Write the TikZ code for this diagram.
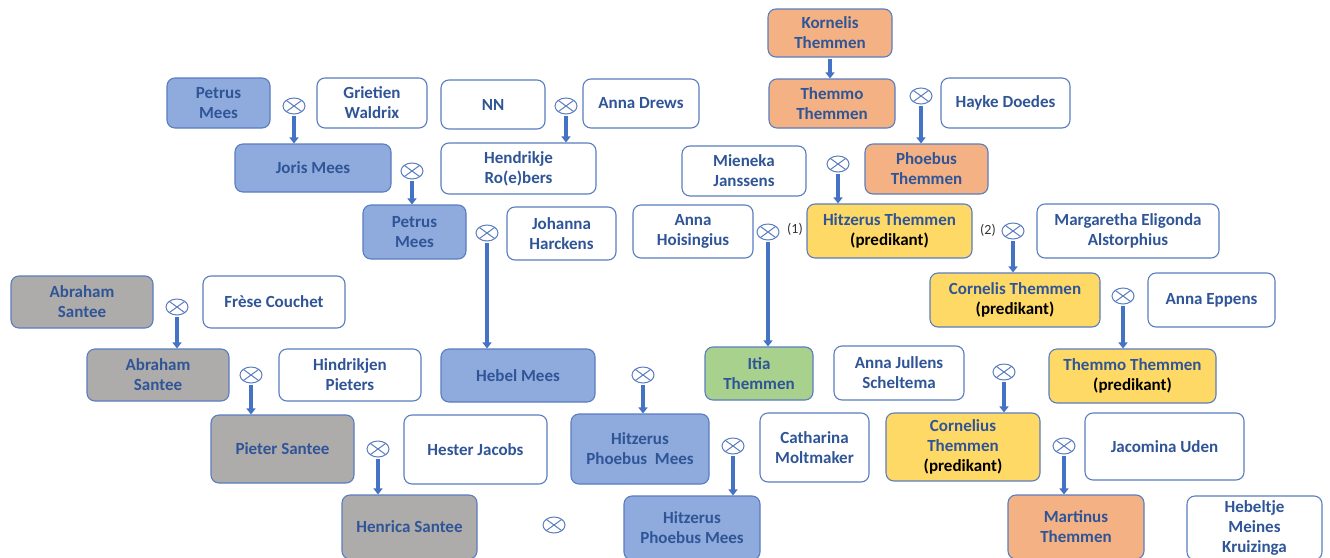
\documentclass[tikz,border=0pt]{standalone}
\usepackage{fontspec}
\setmainfont{Carlito}
\usetikzlibrary{shapes.geometric,arrows.meta}
\definecolor{txt}{HTML}{2F5597}
\definecolor{bord}{HTML}{5A7DC0}
\definecolor{bluef}{HTML}{8FAADC}
\definecolor{orangef}{HTML}{F4B183}
\definecolor{grayf}{HTML}{AEABAB}
\definecolor{yellowf}{HTML}{FFD966}
\definecolor{greenf}{HTML}{A9D18E}
\definecolor{arrc}{HTML}{4472C4}
\definecolor{labc}{HTML}{333333}
\newcommand{\pred}{\textcolor{black}{(predikant)}}
\tikzset{
  box/.style={draw=bord, line width=1.1pt, rounded corners=8pt, fill=white, align=center,
    font=\fontsize{17}{20}\selectfont\bfseries, text=txt, inner sep=0pt},
  mar/.style={draw=bord, ellipse, minimum width=22pt, minimum height=16pt, inner sep=0pt, line width=1pt,
    path picture={\draw[bord,line width=1pt] (path picture bounding box.north west) -- (path picture bounding box.south east)
      (path picture bounding box.north east) -- (path picture bounding box.south west);}},
  arr/.style={draw=arrc, line width=3.4pt, -{Triangle[length=6pt,width=9pt]}, shorten <=1.5pt},
  lab/.style={font=\fontsize{14}{16}\selectfont, text=labc, inner sep=0pt}
}
\begin{document}
\begin{tikzpicture}[x=1pt,y=-1pt]
\fill[white] (0,0) rectangle (1330,557);
\useasboundingbox (0,0) rectangle (1330,557);
\clip (0,0) rectangle (1330,557);
% Themmen line
\node[box,fill=orangef,minimum width=124,minimum height=48] (kor) at (830,33) {Kornelis\\Themmen};
\node[box,fill=orangef,minimum width=126,minimum height=49] (th1) at (832,103.5) {Themmo\\Themmen};
\node[box,minimum width=129,minimum height=50] (hay) at (1005.5,103) {Hayke Doedes};
\node[mar] (m1) at (921,96) {};
\node[box,fill=orangef,minimum width=123,minimum height=50] (pho) at (926.5,169) {Phoebus\\Themmen};
\node[box,minimum width=124,minimum height=50] (mie) at (744,171) {Mieneka\\Janssens};
\node[mar] (m2) at (838,164) {};
\node[box,fill=yellowf,minimum width=165,minimum height=54] (hit) at (889.5,231) {Hitzerus Themmen\\\pred};
\node[lab] (l1) at (795,229) {(1)};
\node[lab] (l2) at (988,230) {(2)};
\node[mar] (m3) at (1013,231) {};
\node[box,minimum width=182,minimum height=54] (mrg) at (1128,231) {Margaretha Eligonda\\Alstorphius};
\node[box,minimum width=120,minimum height=53] (hoi) at (693,231.5) {Anna\\Hoisingius};
\node[mar] (m4) at (768,232) {};
\node[box,fill=yellowf,minimum width=170,minimum height=54] (cor) at (1015,300) {Cornelis Themmen\\\pred};
\node[mar] (m5) at (1123,296) {};
\node[box,minimum width=127,minimum height=54] (epp) at (1211.5,300) {Anna Eppens};
\node[box,fill=yellowf,minimum width=167,minimum height=54] (th2) at (1132.5,376) {Themmo Themmen\\\pred};
\node[box,fill=greenf,minimum width=108,minimum height=53] (iti) at (759,373.5) {Itia\\Themmen};
\node[box,minimum width=130,minimum height=54] (jul) at (899,373) {Anna Jullens\\Scheltema};
\node[mar] (m6) at (1004,372) {};
\node[box,fill=yellowf,minimum width=154,minimum height=68] (cos) at (963,447) {Cornelius\\Themmen\\\pred};
\node[mar] (m7) at (1064,446) {};
\node[box,minimum width=159,minimum height=67] (jac) at (1164.5,446.5) {Jacomina Uden};
\node[box,fill=orangef,minimum width=136,minimum height=64] (mrt) at (1076,527) {Martinus\\Themmen};
\node[box,minimum width=135,minimum height=64] (hbt) at (1254.5,528) {Hebeltje\\Meines\\Kruizinga};
% Mees / Santee line
\node[box,fill=bluef,minimum width=103,minimum height=50] (pe1) at (218.5,103) {Petrus\\Mees};
\node[mar] (m8) at (294,106) {};
\node[box,minimum width=110,minimum height=50] (gri) at (372,103) {Grietien\\Waldrix};
\node[box,minimum width=104,minimum height=49] (nn) at (493,104.5) {NN};
\node[mar] (m9) at (566,106) {};
\node[box,minimum width=116,minimum height=49] (dre) at (641,103.5) {Anna Drews};
\node[box,fill=bluef,minimum width=156,minimum height=48] (jor) at (313,168) {Joris Mees};
\node[mar] (m10) at (412,171) {};
\node[box,minimum width=155,minimum height=51] (hen) at (518.5,168.5) {Hendrikje\\Ro(e)bers};
\node[box,fill=bluef,minimum width=103,minimum height=54] (pe2) at (414.5,232) {Petrus\\Mees};
\node[mar] (m11) at (487,233) {};
\node[box,minimum width=109,minimum height=53] (joh) at (561.5,233.5) {Johanna\\Harckens};
\node[box,fill=grayf,minimum width=142,minimum height=52] (ab1) at (82,302) {Abraham\\Santee};
\node[mar] (m12) at (177,307) {};
\node[box,minimum width=142,minimum height=52] (fre) at (274,302) {Frèse Couchet};
\node[box,fill=grayf,minimum width=142,minimum height=52] (ab2) at (158,375) {Abraham\\Santee};
\node[mar] (m13) at (251,375) {};
\node[box,minimum width=142,minimum height=52] (hin) at (350,375) {Hindrikjen\\Pieters};
\node[box,fill=bluef,minimum width=154,minimum height=53] (heb) at (518,375.5) {Hebel Mees};
\node[mar] (m14) at (643,375) {};
\node[box,fill=grayf,minimum width=143,minimum height=68] (pie) at (282.5,449) {Pieter Santee};
\node[mar] (m15) at (378,449) {};
\node[box,minimum width=143,minimum height=69] (hes) at (475.5,449.5) {Hester Jacobs};
\node[box,fill=bluef,minimum width=138,minimum height=70] (hp1) at (640,449) {Hitzerus\\Phoebus~~Mees};
\node[mar] (m16) at (733,446) {};
\node[box,minimum width=109,minimum height=69] (cat) at (814.5,447.5) {Catharina\\Moltmaker};
\node[box,fill=grayf,minimum width=135,minimum height=64] (hec) at (409.5,527) {Henrica Santee};
\node[mar] (m17) at (554,525) {};
\node[box,fill=bluef,minimum width=136,minimum height=64] (hp2) at (692,528) {Hitzerus\\Phoebus Mees};
% arrows
\draw[arr] (kor.south) -- (kor.south |- th1.north);
\draw[arr] (m1.south) -- (m1.south |- pho.north);
\draw[arr] (m2.south) -- (m2.south |- hit.north);
\draw[arr] (m3.south) -- (m3.south |- cor.north);
\draw[arr] (m4.south) -- (m4.south |- iti.north);
\draw[arr] (m5.south) -- (m5.south |- th2.north);
\draw[arr] (m6.south) -- (m6.south |- cos.north);
\draw[arr] (m7.south) -- (m7.south |- mrt.north);
\draw[arr] (m8.south) -- (m8.south |- jor.north);
\draw[arr] (m9.south) -- (m9.south |- hen.north);
\draw[arr] (m10.south) -- (m10.south |- pe2.north);
\draw[arr] (m11.south) -- (m11.south |- heb.north);
\draw[arr] (m12.south) -- (m12.south |- ab2.north);
\draw[arr] (m13.south) -- (m13.south |- pie.north);
\draw[arr] (m14.south) -- (m14.south |- hp1.north);
\draw[arr] (m15.south) -- (m15.south |- hec.north);
\draw[arr] (m16.south) -- (m16.south |- hp2.north);
\end{tikzpicture}
\end{document}
